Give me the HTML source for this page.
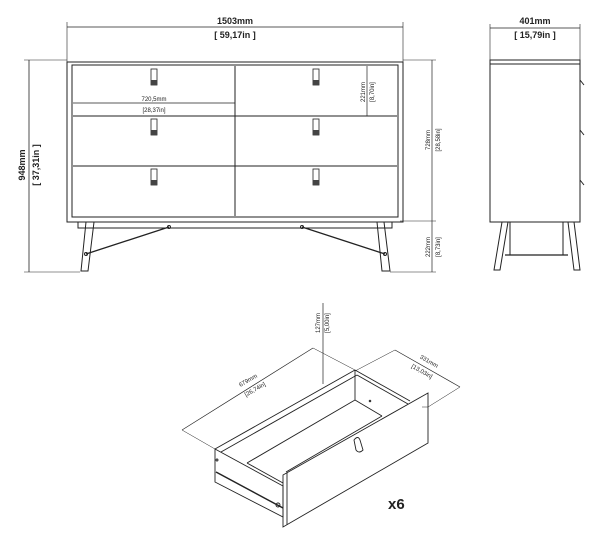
<!DOCTYPE html>
<html><head><style>html,body{margin:0;padding:0;background:#fff;}svg{display:block}</style></head>
<body>
<svg width="600" height="541" viewBox="0 0 600 541" xmlns="http://www.w3.org/2000/svg" font-family="Liberation Sans, sans-serif" fill="none" stroke="#222" stroke-width="1">
<!-- width dim -->
<line x1="67" y1="27" x2="403" y2="27" stroke-width="0.8"/>
<line x1="67" y1="22" x2="67" y2="62" stroke-width="0.6"/><line x1="403" y1="22" x2="403" y2="62" stroke-width="0.6"/>
<text x="235" y="24" font-size="9" font-weight="bold" fill="#222" stroke="none" text-anchor="middle">1503mm</text>
<text x="235" y="38" font-size="9" font-weight="bold" fill="#222" stroke="none" text-anchor="middle">[ 59,17in ]</text>
<!-- 948 dim -->
<line x1="29" y1="60" x2="29" y2="272" stroke-width="0.8"/>
<line x1="24" y1="60" x2="67" y2="60" stroke-width="0.6"/><line x1="24" y1="272" x2="80" y2="272" stroke-width="0.6"/>
<text transform="translate(25,165) rotate(-90)" font-size="9" font-weight="bold" fill="#222" stroke="none" text-anchor="middle">948mm</text>
<text transform="translate(39,165) rotate(-90)" font-size="9" font-weight="bold" fill="#222" stroke="none" text-anchor="middle">[ 37,31in ]</text>
<!-- right dims -->
<line x1="432" y1="60" x2="432" y2="272" stroke-width="0.7"/>
<line x1="403" y1="60" x2="436" y2="60" stroke-width="0.5"/><line x1="400" y1="221" x2="436" y2="221" stroke-width="0.5"/><line x1="390" y1="272" x2="436" y2="272" stroke-width="0.5"/>
<text transform="translate(430,140) rotate(-90)" font-size="6" fill="#222" stroke="none" text-anchor="middle">728mm</text>
<text transform="translate(440,140) rotate(-90)" font-size="6" fill="#222" stroke="none" text-anchor="middle">[28,58in]</text>
<text transform="translate(430,247) rotate(-90)" font-size="6" fill="#222" stroke="none" text-anchor="middle">222mm</text>
<text transform="translate(440,247) rotate(-90)" font-size="6" fill="#222" stroke="none" text-anchor="middle">[8,73in]</text>
<!-- dresser -->
<rect x="67" y="62" width="336" height="160"/>
<rect x="72" y="65" width="326" height="152"/>
<line x1="235" y1="66" x2="235" y2="216"/>
<line x1="73" y1="116" x2="397" y2="116"/><line x1="73" y1="166" x2="397" y2="166"/>
<g stroke-width="0.8">
<rect x="151" y="69" width="6" height="16"/><rect x="313" y="69" width="6" height="16"/>
<rect x="151" y="119" width="6" height="16"/><rect x="313" y="119" width="6" height="16"/>
<rect x="151" y="169" width="6" height="16"/><rect x="313" y="169" width="6" height="16"/>
</g>
<g fill="#444" stroke="none">
<rect x="151" y="80" width="6" height="5"/><rect x="313" y="80" width="6" height="5"/>
<rect x="151" y="130" width="6" height="5"/><rect x="313" y="130" width="6" height="5"/>
<rect x="151" y="180" width="6" height="5"/><rect x="313" y="180" width="6" height="5"/>
</g>
<line x1="73" y1="103" x2="235" y2="103" stroke-width="0.7"/>
<text x="154" y="101" font-size="6" fill="#222" stroke="none" text-anchor="middle">720,5mm</text>
<text x="154" y="112" font-size="6" fill="#222" stroke="none" text-anchor="middle">[28,37in]</text>
<line x1="367" y1="66" x2="367" y2="116" stroke-width="0.7"/>
<text transform="translate(365,92) rotate(-90)" font-size="6" fill="#222" stroke="none" text-anchor="middle">221mm</text>
<text transform="translate(374,92) rotate(-90)" font-size="6" fill="#222" stroke="none" text-anchor="middle">[8,70in]</text>
<!-- apron & legs -->
<rect x="78" y="222" width="314" height="6"/>
<polygon points="86,222 94,222 88,271 81,271"/>
<polygon points="377,222 384,222 390,271 382,271"/>
<line x1="86" y1="254" x2="169" y2="227" stroke-width="1.3"/>
<line x1="385" y1="254" x2="302" y2="227" stroke-width="1.3"/>
<circle cx="169" cy="227" r="1.5"/><circle cx="302" cy="227" r="1.5"/>
<circle cx="86" cy="254" r="1.5"/><circle cx="385" cy="254" r="1.5"/>
<!-- side view -->
<line x1="490" y1="28" x2="580" y2="28" stroke-width="0.8"/>
<line x1="490" y1="24" x2="490" y2="60" stroke-width="0.6"/><line x1="580" y1="24" x2="580" y2="60" stroke-width="0.6"/>
<text x="535" y="24" font-size="9" font-weight="bold" fill="#222" stroke="none" text-anchor="middle">401mm</text>
<text x="535" y="38" font-size="9" font-weight="bold" fill="#222" stroke="none" text-anchor="middle">[ 15,79in ]</text>
<rect x="490" y="60" width="90" height="162"/>
<line x1="490" y1="64" x2="580" y2="64"/>
<line x1="580" y1="80" x2="584" y2="85"/><line x1="580" y1="130" x2="584" y2="135"/><line x1="580" y1="180" x2="584" y2="185"/>
<polygon points="502,222 508,222 500,270 494,270"/>
<polygon points="568,222 574,222 580,270 574,270"/>
<line x1="510" y1="222" x2="510" y2="255"/><line x1="563" y1="222" x2="563" y2="255"/>
<line x1="505" y1="255" x2="568" y2="255" stroke-width="1.3"/>
<!-- drawer iso -->
<g stroke-width="0.9">
<polygon points="283,475 428,393 428,443 283,527" fill="#fff"/>
<line x1="287" y1="473" x2="287" y2="525"/>
<polygon points="215,449 283,486 283,517 215,482"/>
<line x1="215" y1="449" x2="355" y2="370"/>
<line x1="221" y1="452" x2="357" y2="375"/>
<line x1="355" y1="370" x2="355" y2="400"/>
<line x1="355" y1="370" x2="410" y2="401"/>
<line x1="357" y1="375" x2="408" y2="404"/>
<line x1="355" y1="400" x2="382" y2="416"/>
<line x1="355" y1="400" x2="247" y2="463"/>
<line x1="382" y1="416" x2="286" y2="472"/>
<line x1="247" y1="463" x2="283" y2="483"/>
<line x1="216" y1="472" x2="283" y2="508" stroke-width="1.5"/>
<path d="M354,440 q4,-5 6,0 l3,10 q-4,4 -7,0 z"/>
<circle cx="370" cy="401" r="0.8"/>
<circle cx="278" cy="505" r="2"/>
<circle cx="217" cy="460" r="1"/>
<line x1="428" y1="407" x2="422" y2="407" stroke-width="0.5"/>
</g>
<!-- drawer dims -->
<line x1="182" y1="430" x2="313" y2="348" stroke-width="0.7"/>
<line x1="313" y1="348" x2="355" y2="370" stroke-width="0.5"/>
<line x1="182" y1="430" x2="215" y2="449" stroke-width="0.5"/>
<text transform="translate(249,382) rotate(-30)" font-size="6" fill="#222" stroke="none" text-anchor="middle">679mm</text>
<text transform="translate(256,391) rotate(-30)" font-size="6" fill="#222" stroke="none" text-anchor="middle">[26,74in]</text>
<line x1="395" y1="350" x2="460" y2="387" stroke-width="0.7"/>
<line x1="355" y1="371" x2="395" y2="350" stroke-width="0.5"/>
<line x1="428" y1="407" x2="460" y2="387" stroke-width="0.5"/>
<text transform="translate(428,363) rotate(30)" font-size="6" fill="#222" stroke="none" text-anchor="middle">331mm</text>
<text transform="translate(421,373) rotate(30)" font-size="6" fill="#222" stroke="none" text-anchor="middle">[13,03in]</text>
<line x1="323" y1="303" x2="323" y2="384" stroke-width="0.7"/>
<text transform="translate(320,323) rotate(-90)" font-size="6" fill="#222" stroke="none" text-anchor="middle">127mm</text>
<text transform="translate(329,323) rotate(-90)" font-size="6" fill="#222" stroke="none" text-anchor="middle">[5,00in]</text>
<text x="388" y="509" font-size="15" font-weight="bold" fill="#222" stroke="none">x6</text>
</svg>
</body></html>
